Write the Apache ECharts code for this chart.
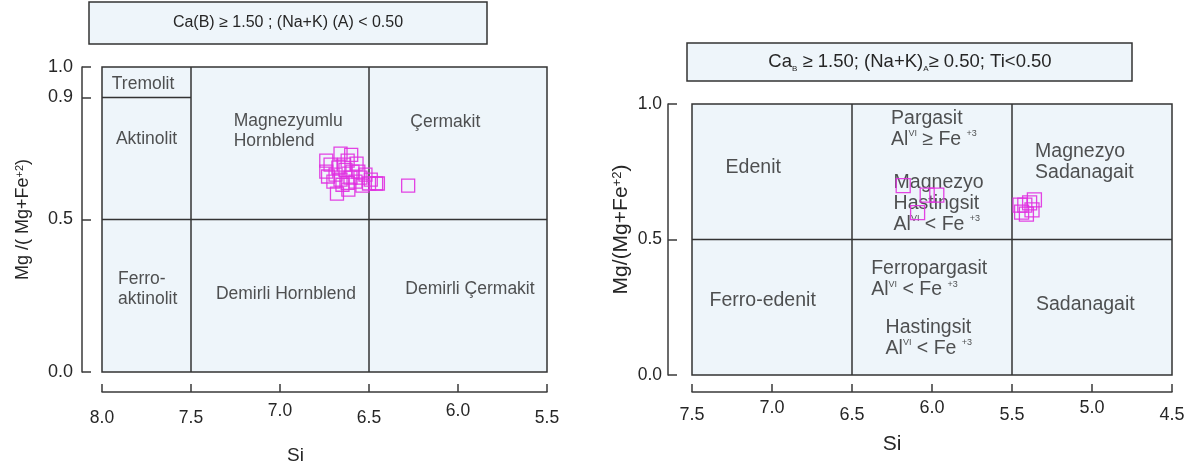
<!DOCTYPE html>
<html><head><meta charset="utf-8">
<script src="https://cdn.jsdelivr.net/npm/echarts@6/dist/echarts.min.js"></script>
<style>html,body{margin:0;padding:0;background:#fff}#c{width:1195px;height:470px}</style>
</head><body><div id="c"></div>
<script>
// ---- data ----
const leftTitle = 'Ca(B) ≥ 1.50 ; (Na+K) (A) < 0.50';
const rightTitleParts = ['Ca', 'B', ' ≥ 1.50; (Na+K)', 'A', '≥ 0.50; Ti<0.50'];
const leftXRange = [5.5, 8.0];
const rightXRange = [4.5, 7.5];
const raisedXTicks = [5.0, 6.0, 7.0];
const leftYTicks = [0, 0.5, 0.9, 1.0];
const rightYTicks = [0, 0.5, 1.0];
const xName = 'Si';
// Si, Mg/(Mg+Fe2+)
const leftPoints = [
  [6.74,0.693],[6.66,0.716],[6.62,0.693],[6.57,0.683],[6.74,0.657],[6.73,0.641],
  [6.68,0.585],[6.46,0.618],[6.45,0.618],[6.50,0.618],[6.28,0.611],
  [6.716,0.680],[6.688,0.647],[6.672,0.670],[6.660,0.631],[6.649,0.614],[6.632,0.663],
  [6.616,0.598],[6.604,0.637],[6.593,0.657],[6.576,0.624],[6.548,0.637],[6.537,0.611],
  [6.52,0.647],[6.49,0.631],[6.60,0.712],[6.70,0.624],[6.64,0.680],[6.56,0.657],[6.62,0.620]
];
const rightPoints = [
  [6.18,0.699],[6.03,0.664],[5.97,0.664],[6.09,0.599],
  [5.44,0.601],[5.42,0.627],[5.39,0.635],[5.36,0.646],[5.375,0.609],[5.41,0.594],[5.45,0.627]
];
// field boundaries (Si, ratio)
const leftBounds = [
  [[7.5,0],[7.5,1]], [[6.5,0],[6.5,1]], [[8,0.5],[5.5,0.5]], [[8,0.9],[7.5,0.9]]
];
const rightBounds = [
  [[6.5,0],[6.5,1]], [[5.5,0],[5.5,1]], [[7.5,0.5],[4.5,0.5]]
];
// field names, anchored at their left edge
const leftFields = [
  [7.945,0.944,'Tremolit'],
  [7.922,0.762,'Aktinolit'],
  [7.91,0.271,'Ferro-\naktinolit'],
  [7.26,0.79,'Magnezyumlu\nHornblend'],
  [6.268,0.82,'Çermakit'],
  [7.36,0.255,'Demirli Hornblend'],
  [6.296,0.271,'Demirli Çermakit']
];
const rightFields = [
  [7.29,0.764,'Edenit'],
  [6.256,0.908,'Pargasit\nAl{s|VI} ≥ Fe {s|+3}'],
  [6.24,0.631,'Magnezyo\nHastingsit\nAl{s|VI} < Fe {s|+3}'],
  [5.356,0.787,'Magnezyo\nSadanagait'],
  [7.39,0.274,'Ferro-edenit'],
  [6.38,0.352,'Ferropargasit\nAl{s|VI} < Fe {s|+3}'],
  [6.29,0.137,'Hastingsit\nAl{s|VI} < Fe {s|+3}'],
  [5.35,0.258,'Sadanagait']
];

// ---- chart ----
const FONT = '"Liberation Sans", Arial, sans-serif';
const TXT = '#262626';
const AX = '#3a3a3a';
const FILL = '#eef5fa';
const PINK = '#e030e0';

function xAxis(gi, range, offset, fs, margin, gap, nfs, namePad) {
  return {
    type: 'value', gridIndex: gi, min: range[0], max: range[1], interval: 0.5, inverse: true,
    position: 'bottom', offset: offset,
    name: xName, nameLocation: 'middle', nameGap: gap,
    nameTextStyle: { fontFamily: FONT, fontSize: nfs, color: TXT, padding: namePad },
    axisLine: { show: true, onZero: false, lineStyle: { color: AX, width: 1.5 } },
    axisTick: { show: true, inside: true, length: 8, lineStyle: { color: AX, width: 1.5 } },
    splitLine: { show: false },
    axisLabel: {
      margin: margin, color: TXT, fontFamily: FONT, fontSize: fs,
      formatter: v => (raisedXTicks.some(t => Math.abs(t - v) < 1e-6) ? '{hi|' : '{lo|') + v.toFixed(1) + '}',
      rich: {
        hi: { fontFamily: FONT, fontSize: fs, color: TXT, padding: [0,0,0,0] },
        lo: { fontFamily: FONT, fontSize: fs, color: TXT, padding: [7,0,0,0] }
      }
    }
  };
}
function yAxis(gi, ticks, offset, fs, margin, gap, nfs, nameRich, namePad) {
  return {
    type: 'value', gridIndex: gi, min: 0, max: 1, offset: offset,
    name: nameRich, nameLocation: 'middle', nameGap: gap,
    nameTextStyle: {
      fontFamily: FONT, fontSize: nfs, color: TXT, padding: namePad,
      rich: {
        t: { fontFamily: FONT, fontSize: nfs, color: TXT },
        s: { fontFamily: FONT, fontSize: Math.round(nfs * 0.6), color: TXT, verticalAlign: 'top' }
      }
    },
    axisLine: { show: true, onZero: false, lineStyle: { color: AX, width: 1.5 } },
    axisTick: { show: true, inside: true, length: 9, customValues: ticks, lineStyle: { color: AX, width: 1.5 } },
    splitLine: { show: false },
    axisLabel: { margin: margin, color: TXT, fontFamily: FONT, fontSize: fs, customValues: ticks, formatter: v => v.toFixed(1) }
  };
}
function boundSeries(bounds, xi) {
  return bounds.map(seg => ({
    type: 'line', xAxisIndex: xi, yAxisIndex: xi, data: seg, symbol: 'none', silent: true,
    lineStyle: { color: '#333', width: 1.5 }, z: 3
  }));
}
function fieldSeries(fields, xi, fs, lh) {
  return {
    type: 'scatter', xAxisIndex: xi, yAxisIndex: xi, symbolSize: 0, silent: true, z: 4,
    data: fields.map(f => ({ value: [f[0], f[1]], name: f[2] })),
    label: {
      show: true, position: 'inside', align: 'left', verticalAlign: 'middle',
      formatter: p => p.name, color: TXT, fontFamily: FONT, fontSize: fs, lineHeight: lh,
      rich: {
        s: { fontFamily: FONT, fontSize: 9, color: TXT, verticalAlign: 'top', lineHeight: lh }
      }
    }
  };
}
function pointSeries(pts, xi, size) {
  return {
    type: 'scatter', xAxisIndex: xi, yAxisIndex: xi, data: pts, symbol: 'rect', symbolSize: size, z: 5,
    itemStyle: { color: 'rgba(0,0,0,0)', borderColor: PINK, borderWidth: 1.3, opacity: 0.9 }
  };
}

const chart = echarts.init(document.getElementById('c'), null, { renderer: 'canvas' });
chart.setOption({
  animation: false,
  backgroundColor: '#fff',
  textStyle: { fontFamily: FONT },
  grid: [
    { left: 102, top: 67, width: 445, height: 306, show: true, backgroundColor: FILL, borderColor: '#333', borderWidth: 1.5 },
    { left: 692, top: 104, width: 480, height: 271, show: true, backgroundColor: FILL, borderColor: '#333', borderWidth: 1.5 }
  ],
  xAxis: [
    xAxis(0, leftXRange, 20, 17.5, 10, 54, 19, [0, 58, 0, 0]),
    xAxis(1, rightXRange, 17, 18, 7, 42, 21, [0, 80, 0, 0])
  ],
  yAxis: [
    yAxis(0, leftYTicks, 20, 18, 9, 50, 18, '{t|Mg /( Mg+Fe}{s|+2}{t|)}', [0, 0, 0, 0]),
    yAxis(1, rightYTicks, 24, 17.5, 6, 36, 21, '{t|Mg/(Mg+Fe}{s|+2}{t|)}', [0, 0, 0, 20])
  ],
  graphic: [
    { type: 'rect', shape: { x: 89, y: 2, width: 398, height: 42 }, style: { fill: FILL, stroke: '#333', lineWidth: 1.5 } },
    { type: 'text', x: 288, y: 23, style: { text: leftTitle, fill: TXT, font: '16px ' + FONT, align: 'center', verticalAlign: 'middle' } },
    { type: 'rect', shape: { x: 687, y: 43, width: 445, height: 38 }, style: { fill: FILL, stroke: '#333', lineWidth: 1.5 } },
    { type: 'text', x: 910, y: 62, style: {
      text: '{m|' + rightTitleParts[0] + '}{b|' + rightTitleParts[1] + '}{m|' + rightTitleParts[2] + '}{b|' + rightTitleParts[3] + '}{m|' + rightTitleParts[4] + '}',
      align: 'center', verticalAlign: 'middle',
      rich: {
        m: { fontFamily: FONT, fontSize: 18.5, fill: TXT, color: TXT, lineHeight: 22 },
        b: { fontFamily: FONT, fontSize: 8, fill: TXT, color: TXT, verticalAlign: 'bottom', lineHeight: 22 }
      }
    } }
  ],
  series: [
    ...boundSeries(leftBounds, 0),
    ...boundSeries(rightBounds, 1),
    fieldSeries(leftFields, 0, 17.5, 19.5),
    fieldSeries(rightFields, 1, 19.5, 21),
    pointSeries(leftPoints, 0, 13),
    pointSeries(rightPoints, 1, 14)
  ]
});
</script></body></html>
